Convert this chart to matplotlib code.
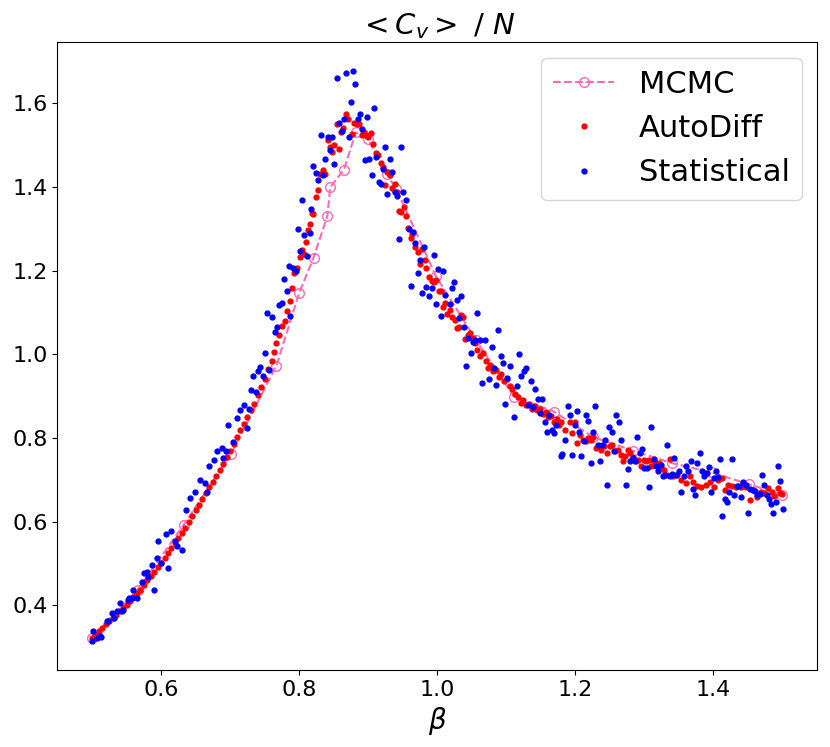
"""Specific heat per spin vs inverse temperature.

MCMC reference curve (dashed, open circles) against the AutoDiff and
Statistical estimators (dots).
"""

import matplotlib
matplotlib.use("Agg")
import matplotlib.pyplot as plt

# ── MCMC reference ──
beta_mcmc = [0.500, 0.566, 0.633, 0.701, 0.767, 0.800, 0.821, 0.841, 0.845,
             0.865, 0.882, 0.900, 0.927, 0.941, 0.998, 1.056, 1.111, 1.169,
             1.226, 1.283, 1.340, 1.397, 1.452, 1.500]
cv_mcmc = [0.322, 0.437, 0.593, 0.761, 0.972, 1.146, 1.231, 1.331, 1.399,
           1.441, 1.530, 1.513, 1.430, 1.394, 1.187, 1.034, 0.899, 0.863,
           0.802, 0.770, 0.740, 0.718, 0.689, 0.664]

# ── AutoDiff estimator ──
beta_ad = [
    0.500, 0.505, 0.510, 0.515, 0.520, 0.525, 0.530, 0.535, 0.540, 0.545,
    0.550, 0.555, 0.560, 0.565, 0.570, 0.575, 0.580, 0.585, 0.590, 0.595,
    0.600, 0.605, 0.610, 0.615, 0.620, 0.625, 0.630, 0.635, 0.640, 0.645,
    0.650, 0.655, 0.660, 0.665, 0.670, 0.675, 0.680, 0.685, 0.690, 0.695,
    0.700, 0.705, 0.710, 0.715, 0.720, 0.725, 0.730, 0.735, 0.740, 0.745,
    0.750, 0.755, 0.760, 0.764, 0.767, 0.771, 0.775, 0.779, 0.783, 0.787,
    0.790, 0.793, 0.797, 0.801, 0.804, 0.807, 0.810, 0.813, 0.816, 0.818,
    0.8204, 0.8243, 0.8276, 0.830, 0.834, 0.8373, 0.8412, 0.8446, 0.848, 0.8508,
    0.8543, 0.8576, 0.860, 0.8638, 0.8673, 0.8711, 0.876, 0.8793, 0.8832, 0.8865,
    0.8905, 0.8938, 0.8967, 0.900, 0.9035, 0.9072, 0.9112, 0.9145, 0.918, 0.9213,
    0.9246, 0.928, 0.9314, 0.9347, 0.9382, 0.9415, 0.9444, 0.9483, 0.9517, 0.9545,
    0.9579, 0.9618, 0.9628, 0.9676, 0.9715, 0.9748, 0.9782, 0.982, 0.9845, 0.9883,
    0.9918, 0.995, 0.999, 1.0027, 1.0052, 1.0086, 1.011, 1.0143, 1.0183, 1.0216,
    1.0255, 1.0288, 1.0317, 1.0352, 1.0375, 1.041, 1.045, 1.0482, 1.052, 1.055,
    1.058, 1.062, 1.066, 1.070, 1.073, 1.077, 1.081, 1.085, 1.089, 1.093,
    1.097, 1.101, 1.105, 1.109, 1.113, 1.117, 1.121, 1.125, 1.129, 1.133,
    1.137, 1.141, 1.145, 1.149, 1.153, 1.157, 1.161, 1.165, 1.169, 1.173,
    1.177, 1.1799, 1.1847, 1.1919, 1.1958, 1.1991, 1.2025, 1.2063, 1.2111, 1.215,
    1.2184, 1.2223, 1.2256, 1.2295, 1.2343, 1.2378, 1.2416, 1.2459, 1.2498, 1.2537,
    1.257, 1.2618, 1.2657, 1.269, 1.2725, 1.2763, 1.2797, 1.2835, 1.2874, 1.2907,
    1.2957, 1.299, 1.3029, 1.3067, 1.3101, 1.3139, 1.3174, 1.3211, 1.3246, 1.3284,
    1.3327, 1.3366, 1.3414, 1.3472, 1.3535, 1.3598, 1.3656, 1.3703, 1.3761, 1.3825,
    1.3887, 1.3945, 1.4003, 1.4065, 1.4129, 1.4172, 1.421, 1.4273, 1.4331, 1.4404,
    1.4476, 1.4534, 1.4572, 1.4635, 1.4693, 1.4741, 1.479, 1.4847, 1.4886, 1.4934,
    1.4968, 1.4997,
]
cv_ad = [
    0.322, 0.330, 0.338, 0.347, 0.355, 0.362, 0.371, 0.378, 0.386, 0.394,
    0.402, 0.411, 0.420, 0.430, 0.438, 0.449, 0.460, 0.470, 0.480, 0.492,
    0.502, 0.513, 0.526, 0.537, 0.549, 0.562, 0.573, 0.586, 0.600, 0.614,
    0.627, 0.641, 0.654, 0.668, 0.682, 0.695, 0.708, 0.724, 0.739, 0.755,
    0.770, 0.786, 0.802, 0.818, 0.833, 0.850, 0.866, 0.882, 0.902, 0.921,
    0.940, 0.965, 0.985, 1.005, 1.028, 1.046, 1.068, 1.080, 1.104, 1.126,
    1.158, 1.195, 1.205, 1.232, 1.248, 1.240, 1.268, 1.297, 1.312, 1.337,
    1.335, 1.376, 1.392, 1.430, 1.440, 1.430, 1.512, 1.496, 1.484, 1.500,
    1.550, 1.490, 1.530, 1.540, 1.573, 1.562, 1.525, 1.552, 1.549, 1.550,
    1.524, 1.530, 1.524, 1.520, 1.528, 1.502, 1.480, 1.476, 1.456, 1.448,
    1.404, 1.435, 1.428, 1.398, 1.406, 1.388, 1.343, 1.340, 1.351, 1.331,
    1.301, 1.277, 1.287, 1.257, 1.245, 1.215, 1.252, 1.225, 1.205, 1.184,
    1.176, 1.172, 1.178, 1.152, 1.150, 1.114, 1.123, 1.096, 1.106, 1.088,
    1.082, 1.062, 1.066, 1.094, 1.090, 1.037, 1.045, 1.050, 1.038, 1.028,
    1.010, 0.995, 1.002, 0.985, 0.968, 0.975, 0.960, 0.962, 0.946, 0.952,
    0.935, 0.940, 0.925, 0.918, 0.905, 0.898, 0.884, 0.890, 0.878, 0.882,
    0.870, 0.876, 0.866, 0.870, 0.858, 0.862, 0.849, 0.852, 0.838, 0.845,
    0.830, 0.839, 0.819, 0.839, 0.813, 0.837, 0.789, 0.807, 0.796, 0.792,
    0.800, 0.796, 0.803, 0.776, 0.782, 0.772, 0.780, 0.764, 0.780, 0.784,
    0.770, 0.772, 0.760, 0.745, 0.756, 0.772, 0.764, 0.754, 0.744, 0.748,
    0.733, 0.748, 0.746, 0.748, 0.733, 0.744, 0.736, 0.740, 0.730, 0.724,
    0.712, 0.750, 0.708, 0.712, 0.700, 0.692, 0.708, 0.694, 0.686, 0.683,
    0.688, 0.696, 0.684, 0.700, 0.704, 0.675, 0.688, 0.686, 0.683, 0.684,
    0.683, 0.651, 0.676, 0.659, 0.672, 0.668, 0.680, 0.672, 0.662, 0.680,
    0.668, 0.667,
]

# ── Statistical estimator ──
beta_st = [
    0.4997, 0.502, 0.507, 0.5117, 0.513, 0.5214, 0.5237, 0.5287, 0.5324, 0.5359,
    0.5407, 0.5436, 0.5454, 0.5527, 0.5541, 0.5576, 0.560, 0.5648, 0.572, 0.5754,
    0.5793, 0.5816, 0.5865, 0.5903, 0.5938, 0.596, 0.600, 0.6072, 0.6097, 0.614,
    0.620, 0.6227, 0.630, 0.636, 0.642, 0.649, 0.6564, 0.6637, 0.666, 0.670,
    0.6767, 0.6806, 0.6878, 0.690, 0.694, 0.6974, 0.7037, 0.7096, 0.7143, 0.7206,
    0.724, 0.7273, 0.7302, 0.7336, 0.737, 0.741, 0.743, 0.747, 0.7505, 0.7538,
    0.7567, 0.761, 0.765, 0.7674, 0.7712, 0.7747, 0.778, 0.782, 0.7848, 0.7867,
    0.7915, 0.795, 0.7978, 0.801, 0.8045, 0.8074, 0.8113, 0.8157, 0.8175, 0.8204,
    0.8243, 0.8276, 0.8311, 0.8349, 0.8378, 0.8412, 0.8446, 0.848, 0.8508, 0.8543,
    0.8576, 0.8615, 0.8648, 0.8677, 0.8716, 0.8745, 0.8778, 0.8807, 0.8846, 0.888,
    0.8913, 0.8948, 0.8981, 0.9015, 0.905, 0.9078, 0.9116, 0.9155, 0.9184, 0.9217,
    0.9246, 0.928, 0.9314, 0.9347, 0.9386, 0.9415, 0.9449, 0.9478, 0.9512, 0.955,
    0.9585, 0.9614, 0.9643, 0.968, 0.9715, 0.9748, 0.9782, 0.981, 0.9845, 0.9883,
    0.9918, 0.995, 0.9984, 1.0019, 1.0052, 1.0086, 1.012, 1.0183, 1.0216, 1.025,
    1.0284, 1.0317, 1.0352, 1.0385, 1.0418, 1.0453, 1.0486, 1.052, 1.0554, 1.0583,
    1.062, 1.065, 1.0689, 1.0751, 1.079, 1.0819, 1.0858, 1.0881, 1.092, 1.0954,
    1.0988, 1.1017, 1.105, 1.1119, 1.1152, 1.1185, 1.122, 1.1253, 1.1292, 1.1321,
    1.1354, 1.1388, 1.1422, 1.1456, 1.1489, 1.1524, 1.1557, 1.159, 1.1625, 1.1658,
    1.1692, 1.1726, 1.1789, 1.1813, 1.1857, 1.1894, 1.1929, 1.1958, 1.1991, 1.2025,
    1.2059, 1.2088, 1.2122, 1.2155, 1.219, 1.2223, 1.2256, 1.2291, 1.2324, 1.2357,
    1.2392, 1.2425, 1.2459, 1.2493, 1.2527, 1.256, 1.2595, 1.2628, 1.2661, 1.2729,
    1.2763, 1.2797, 1.2831, 1.2864, 1.2899, 1.2932, 1.2965, 1.300, 1.3033, 1.3067,
    1.3101, 1.3134, 1.3168, 1.3203, 1.3236, 1.3269, 1.3304, 1.3333, 1.3366, 1.3399,
    1.3428, 1.3463, 1.3496, 1.3535, 1.3569, 1.3602, 1.3637, 1.367, 1.3703, 1.3732,
    1.3767, 1.380, 1.3833, 1.3868, 1.3902, 1.3935, 1.397, 1.4003, 1.4036, 1.4071,
    1.410, 1.4133, 1.4166, 1.4201, 1.4234, 1.4268, 1.4302, 1.4336, 1.4369, 1.4404,
    1.4437, 1.447, 1.4505, 1.4538, 1.4572, 1.4606, 1.464, 1.4673, 1.4708, 1.4741,
    1.4774, 1.4803, 1.4838, 1.4871, 1.4904, 1.4939, 1.4972, 1.5006,
]
cv_st = [
    0.314, 0.338, 0.322, 0.326, 0.324, 0.362, 0.363, 0.382, 0.370, 0.386,
    0.406, 0.386, 0.390, 0.414, 0.418, 0.418, 0.437, 0.418, 0.457, 0.477,
    0.481, 0.468, 0.497, 0.437, 0.513, 0.553, 0.501, 0.571, 0.489, 0.577,
    0.553, 0.541, 0.533, 0.627, 0.656, 0.671, 0.700, 0.692, 0.672, 0.732,
    0.748, 0.768, 0.776, 0.752, 0.770, 0.830, 0.791, 0.847, 0.867, 0.879,
    0.823, 0.869, 0.915, 0.948, 0.911, 0.959, 0.969, 0.948, 1.004, 1.098,
    0.963, 1.088, 1.054, 1.066, 1.118, 1.122, 1.180, 1.152, 1.211, 1.092,
    1.206, 1.200, 1.298, 1.247, 1.368, 1.285, 1.235, 1.290, 1.348, 1.450,
    1.432, 1.416, 1.524, 1.428, 1.466, 1.520, 1.488, 1.520, 1.454, 1.660,
    1.552, 1.533, 1.563, 1.672, 1.520, 1.603, 1.677, 1.645, 1.563, 1.575,
    1.538, 1.464, 1.567, 1.466, 1.428, 1.587, 1.472, 1.412, 1.407, 1.442,
    1.494, 1.382, 1.466, 1.436, 1.388, 1.379, 1.275, 1.496, 1.388, 1.368,
    1.299, 1.162, 1.293, 1.265, 1.194, 1.225, 1.146, 1.257, 1.160, 1.139,
    1.158, 1.237, 1.120, 1.203, 1.092, 1.199, 1.142, 1.120, 1.158, 1.172,
    1.130, 1.086, 1.138, 1.066, 0.971, 1.038, 1.004, 1.030, 1.034, 1.099,
    1.034, 0.931, 1.033, 0.941, 1.018, 0.968, 0.927, 1.057, 0.997, 0.979,
    0.882, 0.943, 0.971, 0.850, 0.924, 1.001, 0.948, 0.961, 0.967, 0.879,
    0.935, 0.874, 0.917, 0.893, 0.859, 0.893, 0.839, 0.814, 0.854, 0.819,
    0.812, 0.830, 0.757, 0.762, 0.794, 0.877, 0.854, 0.760, 0.830, 0.865,
    0.815, 0.757, 0.792, 0.854, 0.841, 0.740, 0.815, 0.877, 0.784, 0.744,
    0.784, 0.796, 0.688, 0.826, 0.814, 0.770, 0.855, 0.837, 0.794, 0.688,
    0.726, 0.744, 0.753, 0.745, 0.802, 0.765, 0.773, 0.728, 0.728, 0.682,
    0.827, 0.749, 0.732, 0.722, 0.736, 0.708, 0.712, 0.783, 0.708, 0.714,
    0.751, 0.712, 0.720, 0.672, 0.708, 0.732, 0.720, 0.746, 0.678, 0.663,
    0.740, 0.764, 0.722, 0.708, 0.717, 0.730, 0.672, 0.704, 0.722, 0.707,
    0.749, 0.613, 0.655, 0.648, 0.672, 0.749, 0.664, 0.686, 0.686, 0.658,
    0.694, 0.688, 0.620, 0.677, 0.675, 0.673, 0.665, 0.667, 0.712, 0.688,
    0.664, 0.654, 0.643, 0.621, 0.648, 0.734, 0.698, 0.631,
]

MCMC_COLOR = "hotpink"
AD_COLOR = "red"
ST_COLOR = "blue"


def make_plot(path):
    fig = plt.figure(figsize=(8.30, 7.47), dpi=100)
    ax = fig.add_axes([0.069, 0.1031, 0.9157, 0.8403])

    ax.plot(beta_mcmc, cv_mcmc, linestyle="--", marker="o",
            color=MCMC_COLOR, markerfacecolor="none", markersize=7,
            linewidth=1.5, label="MCMC")
    ax.plot(beta_ad, cv_ad, ".", color=AD_COLOR, markersize=7,
            label="AutoDiff")
    ax.plot(beta_st, cv_st, ".", color=ST_COLOR, markersize=7,
            label="Statistical")

    ax.set_title(r"$<C_v>\ /\ N$", fontsize=21)
    ax.set_xlabel(r"$\beta$", fontsize=20)
    ax.tick_params(labelsize=16)
    ax.set_xticks([0.6, 0.8, 1.0, 1.2, 1.4])
    ax.set_yticks([0.4, 0.6, 0.8, 1.0, 1.2, 1.4, 1.6])
    ax.legend(loc="upper right", fontsize=22, markerscale=1.0)

    fig.savefig(path, dpi=100)
    plt.close(fig)


if __name__ == "__main__":
    make_plot("out.png")
